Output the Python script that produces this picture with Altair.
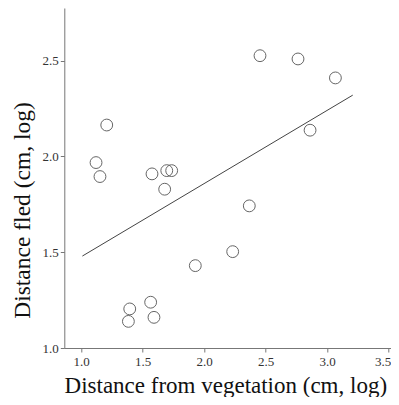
import altair as alt
import pandas as pd

# Scatter data
veg_dist = [1.209, 1.122, 1.154, 1.577, 1.697, 1.737, 1.680, 2.368, 2.233, 1.929,
            1.566, 1.396, 1.593, 1.385, 2.455, 2.764, 3.068, 2.862]
fled_dist = [2.164, 1.968, 1.895, 1.909, 1.926, 1.926, 1.829, 1.742, 1.503, 1.430,
             1.239, 1.204, 1.160, 1.139, 2.526, 2.509, 2.410, 2.137]

# Fit line endpoints
line_x = [1.011, 3.209]
line_y = [1.480, 2.320]

x_ticks = [1.0, 1.5, 2.0, 2.5, 3.0, 3.5]
y_ticks = [1.0, 1.5, 2.0, 2.5]

pts = pd.DataFrame({"x": veg_dist, "y": fled_dist})
fit = pd.DataFrame({"x": line_x, "y": line_y})

FONT = "Liberation Serif"

xscale = alt.Scale(domain=[0.864, 3.52], nice=False, zero=False)
yscale = alt.Scale(domain=[1.0, 2.775], nice=False, zero=False)

xaxis = alt.Axis(
    title="Distance from vegetation (cm, log)",
    values=x_ticks, format=".1f", grid=False,
    domainColor="#777777", tickColor="#777777", tickSize=4,
    labelFont=FONT, labelFontSize=13, labelColor="#333333", labelPadding=3,
    labelOffset={"condition": {"test": "datum.value >= 3.4", "value": -6}, "value": 0},
    titleFont=FONT, titleFontSize=23, titleFontWeight="normal", titleColor="#111111",
    titleX=161, titleY=44, titleBaseline="alphabetic", titleAlign="center",
)
yaxis = alt.Axis(
    title="Distance fled (cm, log)",
    values=y_ticks, format=".1f", grid=False,
    domainColor="#777777", tickColor="#777777", tickSize=4,
    labelFont=FONT, labelFontSize=13, labelColor="#333333", labelPadding=2,
    titleFont=FONT, titleFontSize=23.5, titleFontWeight="normal", titleColor="#111111",
    titleAngle=270, titleX=-42, titleY=202, titleBaseline="middle", titleAlign="center",
)

points = alt.Chart(pts).mark_point(
    shape="circle", filled=False, size=140, stroke="#666666", strokeWidth=1, opacity=1
).encode(
    x=alt.X("x:Q", scale=xscale, axis=xaxis),
    y=alt.Y("y:Q", scale=yscale, axis=yaxis),
)

line = alt.Chart(fit).mark_line(color="#444444", strokeWidth=1).encode(
    x=alt.X("x:Q", scale=xscale),
    y=alt.Y("y:Q", scale=yscale),
)

chart = alt.layer(line, points).properties(
    width=326.7, height=340,
    autosize=alt.AutoSizeParams(type="none"),
    padding={"left": 56.3, "top": 0, "right": 0, "bottom": 49},
).configure_view(stroke=None)

chart.save("out.html", embed_options={"renderer": "svg", "actions": False})
